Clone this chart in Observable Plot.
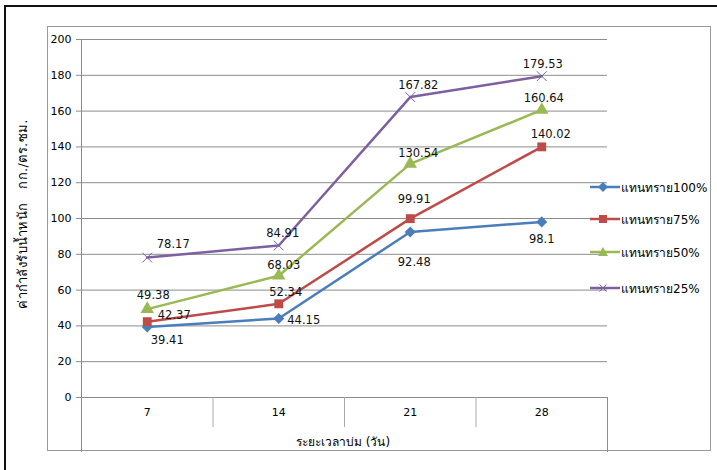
<!DOCTYPE html>
<html><head><meta charset="utf-8">
<script src="https://cdn.jsdelivr.net/npm/d3@7"></script>
<script src="https://cdn.jsdelivr.net/npm/@observablehq/plot@0.6"></script>
<style>
body{margin:0;background:#fff;}
#wrap{position:relative;width:717px;height:470px;overflow:hidden;background:#fff;font-family:Tahoma,"DejaVu Sans",sans-serif;color:#000;}
#wrap svg.plot{position:absolute;left:0;top:0;}
.outerL{position:absolute;left:4px;top:5px;width:2px;height:470px;background:#111;}
.outerT{position:absolute;left:4px;top:5px;width:717px;height:2px;background:#111;}
.frame{position:absolute;left:47px;top:26px;width:664px;height:425px;border:1px solid #9a9a9a;box-sizing:border-box;}
.ytitle{position:absolute;left:22px;top:214px;transform:translate(-50%,-50%) rotate(-90deg);white-space:pre;font-size:13px;letter-spacing:0.4px;}
.xtitle{position:absolute;left:343px;top:441px;transform:translate(-50%,-50%);white-space:nowrap;font-size:12px;}
.leg{position:absolute;left:590px;height:16px;display:flex;align-items:center;font-size:12px;white-space:nowrap;}
.leg svg{margin-right:1px;}
</style></head><body><div id="wrap"></div>
<script>
const days = ["7", "14", "21", "28"];
const seriesNames = ["แทนทราย100%", "แทนทราย75%", "แทนทราย50%", "แทนทราย25%"];
const sand100 = [39.41, 44.15, 92.48, 98.1];
const sand75 = [42.37, 52.34, 99.91, 140.02];
const sand50 = [49.38, 68.03, 130.54, 160.64];
const sand25 = [78.17, 84.91, 167.82, 179.53];
const yTicks = [0, 20, 40, 60, 80, 100, 120, 140, 160, 180, 200];
const yTitle = "ค่ากำลังรับน้ำหนัก   กก./ตร.ซม.";
const xTitle = "ระยะเวลาบ่ม (วัน)";

// styles
const colors = ["#4a7ebb", "#be4b48", "#98b954", "#7d60a0"];
const symbols = ["diamond2", "square", "triangle", "times"];
const labelOffsets = [
  [[20, 13], [25, 2], [4, 30], [0, 17]],
  [[27, -6], [7, -11], [4, -19], [9, -13]],
  [[6, -14], [5, -10], [8, -11], [2, -12]],
  [[26, -13], [4, -12], [8, -12], [1, -12]]
];
const legendY = [187, 219, 252, 288];

const allSeries = [sand100, sand75, sand50, sand25];
const rows = [];
allSeries.forEach((vals, s) => vals.forEach((v, k) => rows.push({s, series: seriesNames[s], i: k + 1, day: days[k], value: v})));

const marks = [
  Plot.gridY({ticks: yTicks.filter(t => t > 0), stroke: "#8c8c8c", strokeOpacity: 1}),
  Plot.axisY({ticks: yTicks, tickSize: 5, tickPadding: 5, stroke: "#8c8c8c", fill: "#000", label: null, fontSize: 11}),
  Plot.ruleX([0.5], {stroke: "#8c8c8c"}),
  Plot.ruleY([0], {stroke: "#8c8c8c"}),
  Plot.axisX({ticks: [0.5, 4.5], tickSize: 55, tickFormat: () => "", stroke: "#8c8c8c", label: null}),
  Plot.axisX({ticks: [1.5, 2.5, 3.5], tickSize: 30, tickFormat: () => "", stroke: "#aaaaaa", label: null}),
  Plot.axisX({ticks: [1, 2, 3, 4], tickSize: 0, tickPadding: 11, tickFormat: i => days[i - 1], fill: "#000", label: null, fontSize: 11})
];
seriesNames.forEach((name, s) => {
  const data = rows.filter(d => d.s === s);
  marks.push(Plot.line(data, {x: "i", y: "value", stroke: colors[s], strokeWidth: 2.5}));
  if (symbols[s] === "times") {
    marks.push(Plot.dot(data, {x: "i", y: "value", symbol: () => symbols[s], stroke: colors[s], strokeWidth: 1, r: 4.5}));
  } else {
    marks.push(Plot.dot(data, {x: "i", y: "value", symbol: () => symbols[s], fill: colors[s], stroke: "none", r: 5}));
  }
  data.forEach((d, k) => {
    const [dx, dy] = labelOffsets[s][k];
    marks.push(Plot.text([d], {x: "i", y: "value", text: d => String(d.value), dx, dy, fontSize: 11.5, fill: "#111"}));
  });
});

const chart = Plot.plot({
  width: 717,
  height: 470,
  marginTop: 39,
  marginBottom: 73,
  marginLeft: 81,
  marginRight: 110,
  x: {type: "linear", domain: [0.5, 4.5]},
  y: {type: "linear", domain: [0, 200]},
  symbol: {type: "identity"},
  style: {fontFamily: "Tahoma, 'DejaVu Sans', sans-serif", background: "transparent", overflow: "visible"},
  marks
});
chart.classList.add("plot");

const wrap = document.getElementById("wrap");
wrap.insertAdjacentHTML("beforeend", `<div class="outerL"></div><div class="outerT"></div><div class="frame"></div>`);
wrap.appendChild(chart);
const yt = document.createElement("div"); yt.className = "ytitle"; yt.textContent = yTitle; wrap.appendChild(yt);
const xt = document.createElement("div"); xt.className = "xtitle"; xt.textContent = xTitle; wrap.appendChild(xt);

const symPaths = {
  diamond2: '<path d="M5,0 L10,5 L5,10 L0,5Z" transform="translate(8,2)" fill="C"/>',
  square: '<rect x="9" y="3" width="8" height="8" fill="C"/>',
  triangle: '<path d="M13,2 L18,11 L8,11Z" fill="C"/>',
  times: '<path d="M9.5,3.5 L16.5,10.5 M16.5,3.5 L9.5,10.5" stroke="C" stroke-width="1"/>'
};
seriesNames.forEach((name, s) => {
  const el = document.createElement("div");
  el.className = "leg";
  el.style.top = (legendY[s] - 8) + "px";
  el.innerHTML = `<svg width="30" height="14"><line x1="0" y1="7" x2="30" y2="7" stroke="${colors[s]}" stroke-width="2.5"/>${symPaths[symbols[s]].replace(/C/g, colors[s])}</svg><span>${name}</span>`;
  wrap.appendChild(el);
});
</script>
</body></html>
